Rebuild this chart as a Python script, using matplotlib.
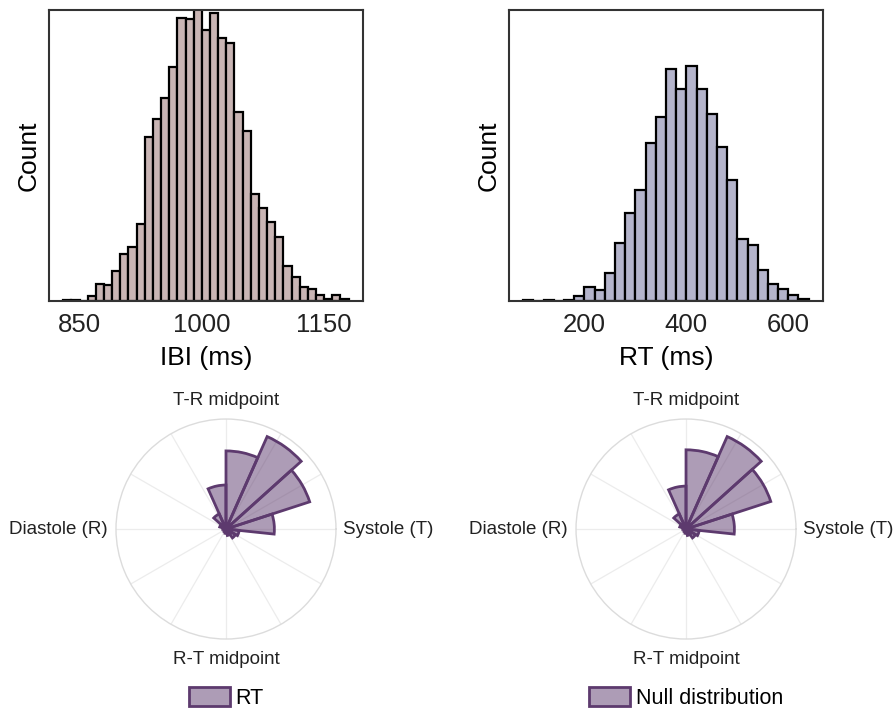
import numpy as np
import matplotlib.pyplot as plt

plt.rcParams['font.family'] = ['Liberation Sans', 'DejaVu Sans']

# histogram of inter-beat intervals (10 ms bins starting at 830 ms)
ibi_start = 830
ibi_width = 10
ibi_counts = [1, 1, 0, 4, 15, 14, 26, 40, 46, 66, 141, 156, 174, 201, 243, 242, 252,
              233, 247, 226, 222, 162, 146, 92, 80, 68, 55, 30, 21, 12, 10, 5, 2, 5, 2]

# histogram of reaction times (20 ms bins starting at 80 ms)
rt_start = 80
rt_width = 20
rt_counts = [1, 0, 1, 0, 1, 4, 12, 9, 24, 50, 76, 95, 136, 158, 199, 182, 202, 182,
             161, 132, 104, 53, 48, 27, 15, 10, 5, 2]

# circular histograms, 15 bins of 24 deg, first bin centred at 6 deg
phase_bin_deg = 24
phase_first_center = 6
rt_phase = [0.44, 0.80, 0.92, 0.71, 0.40, 0.15, 0.06, 0.03, 0.02, 0.02, 0.03, 0.04, 0.06, 0.10, 0.12]
null_phase = [0.44, 0.81, 0.92, 0.72, 0.39, 0.15, 0.06, 0.03, 0.02, 0.02, 0.03, 0.04, 0.06, 0.10, 0.12]
phase_labels = ['Systole (T)', 'T-R midpoint', 'Diastole (R)', 'R-T midpoint']

purple = '#5d3a6e'

fig = plt.figure(figsize=(8.95, 7.09), dpi=100)


def draw_hist(rect, start, width, counts, color, xlabel, ticks):
    ax = fig.add_axes(rect)
    edges = start + width * np.arange(len(counts) + 1)
    centers = (edges[:-1] + edges[1:]) / 2
    ax.hist(centers, bins=edges, weights=counts, facecolor=color,
            edgecolor='black', linewidth=1.6)
    ax.set_ylim(0, 250)
    ax.set_yticks([])
    ax.set_xticks(ticks)
    ax.tick_params(axis='x', length=0, labelsize=18.5, pad=9, colors='#222222')
    ax.set_xlabel(xlabel, fontsize=19, labelpad=6)
    ax.set_ylabel('Count', fontsize=19, labelpad=6)
    for s in ax.spines.values():
        s.set_color('#333333')
        s.set_linewidth(1.5)
    return ax


draw_hist([0.0547, 0.5755, 0.3508, 0.4104], ibi_start, ibi_width, ibi_counts,
          '#c9b5b4', 'IBI (ms)', [850, 1000, 1150])
draw_hist([0.5687, 0.5755, 0.3508, 0.4104], rt_start, rt_width, rt_counts,
          '#b4b4cb', 'RT (ms)', [200, 400, 600])


def draw_polar(rect, values, label):
    ax = fig.add_axes(rect, projection='polar')
    theta = np.deg2rad(phase_first_center + phase_bin_deg * np.arange(len(values)))
    bars = ax.bar(theta, values, width=np.deg2rad(phase_bin_deg), bottom=0,
                  edgecolor=purple, linewidth=2, label=label, zorder=3)
    for p in bars:
        p.set_facecolor((0.365, 0.227, 0.431, 0.5))
    ax.set_ylim(0, 1)
    ax.set_yticks([])
    ax.set_thetagrids(np.arange(0, 360, 30), [''] * 12)
    ax.grid(True, color='#ececec', linewidth=0.9)
    ax.spines['polar'].set_color('#dcdcdc')
    ax.spines['polar'].set_linewidth(1.0)
    # phase labels around the circle
    kw = dict(fontsize=13.5, color='#222222', clip_on=False)
    ax.text(0, 1.06, phase_labels[0], ha='left', va='center', **kw)
    ax.text(np.pi / 2, 1.09, phase_labels[1], ha='center', va='bottom', **kw)
    ax.text(np.pi, 1.08, phase_labels[2], ha='right', va='center', **kw)
    ax.text(3 * np.pi / 2, 1.11, phase_labels[3], ha='center', va='top', **kw)
    ax.legend(loc='upper center', bbox_to_anchor=(0.5, -0.13), frameon=False,
              fontsize=15.5, handlelength=1.9, handleheight=1.0, handletextpad=0.25)
    return ax


draw_polar([0.1296, 0.0987, 0.2458, 0.3103], rt_phase, 'RT')
draw_polar([0.6436, 0.0987, 0.2458, 0.3103], null_phase, 'Null distribution')

fig.savefig('out.png', dpi=100)
